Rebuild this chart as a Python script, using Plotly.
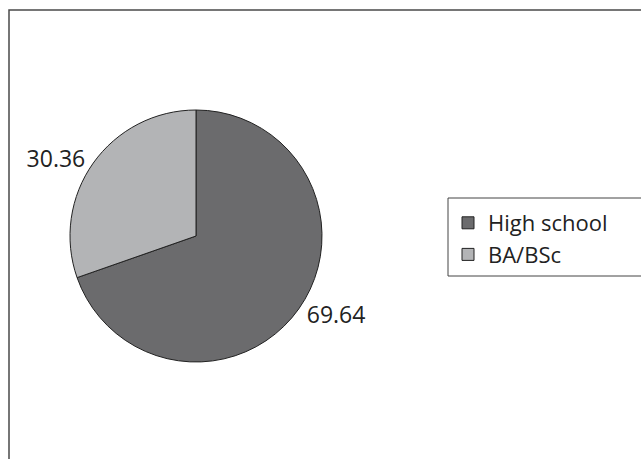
import plotly.graph_objects as go

labels = ["High school", "BA/BSc"]
values = [69.64, 30.36]
colors = ["#6b6b6d", "#b3b4b6"]

W, H = 641, 459


def px(x):
    return x / W


def py(y):
    return (H - y) / H


fig = go.Figure(
    go.Pie(
        labels=labels,
        values=values,
        text=[f"{v:.2f}" for v in values],
        textinfo="text",
        textposition="outside",
        sort=False,
        direction="clockwise",
        rotation=0,
        marker=dict(colors=colors, line=dict(color="#222222", width=1)),
        outsidetextfont=dict(size=23, color="#222222", family="Open Sans"),
        domain=dict(x=[px(70), px(322)], y=[py(362), py(110)]),
        showlegend=True,
        hoverinfo="skip",
    )
)

fig.update_layout(
    width=W,
    height=H,
    margin=dict(l=0, r=0, t=0, b=0),
    paper_bgcolor="white",
    plot_bgcolor="white",
    font=dict(family="Open Sans", color="#222222"),
    legend=dict(
        x=px(448),
        y=py(239),
        xanchor="left",
        yanchor="middle",
        borderwidth=0,
        bgcolor="rgba(0,0,0,0)",
        font=dict(size=22, family="Open Sans", color="#222222"),
    ),
    shapes=[
        dict(
            type="rect",
            xref="paper",
            yref="paper",
            x0=px(9),
            x1=1.2,
            y0=-0.2,
            y1=py(10),
            line=dict(color="#4a4a4a", width=1.5),
            fillcolor="rgba(0,0,0,0)",
            layer="below",
        ),
        dict(
            type="rect",
            xref="paper",
            yref="paper",
            x0=px(448),
            x1=1.2,
            y0=py(276),
            y1=py(198),
            line=dict(color="#444444", width=1),
            fillcolor="rgba(0,0,0,0)",
            layer="below",
        ),
    ],
)

fig.write_html(
    "out.html",
    config={"displayModeBar": False},
    post_script="document.body.style.margin='0px';document.body.style.overflow='hidden';",
)
